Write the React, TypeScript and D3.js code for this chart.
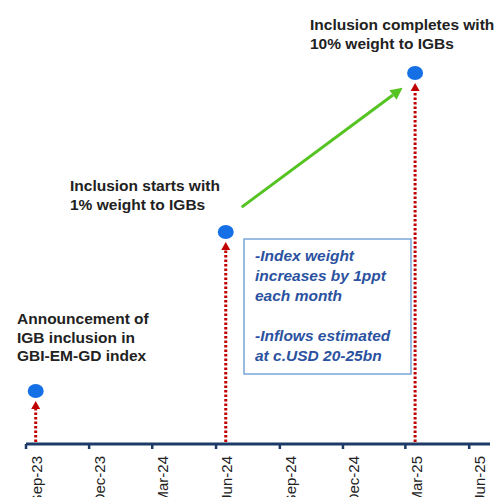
import React, { useEffect, useRef } from "react";
import * as d3 from "d3";

// timeline milestones (value = height on the chart, no real unit)
const milestoneDates = ["2023-09-15", "2024-06-15", "2025-03-15"];
const milestoneLevels = [1, 4, 7];

// tick labels, one every quarter
const tickDates = [
  "2023-09-01",
  "2023-12-01",
  "2024-03-01",
  "2024-06-01",
  "2024-09-01",
  "2024-12-01",
  "2025-03-01",
  "2025-06-01",
];
const tickLabels = ["Sep-23", "Dec-23", "Mar-24", "Jun-24", "Sep-24", "Dec-24", "Mar-25", "Jun-25"];

// green trend arrow (start / end)
const trendDates = ["2024-07-08", "2025-02-25"];
const trendLevels = [4.47, 6.72];

const notes = [
  ["Announcement of", "IGB inclusion in", "GBI-EM-GD index"],
  ["Inclusion starts with", "1% weight to IGBs"],
  ["Inclusion completes with", "10% weight to IGBs"],
];
const boxLines = [
  "-Index weight",
  "increases by 1ppt",
  "each month",
  "",
  "-Inflows estimated",
  "at c.USD 20-25bn",
];

const parse = d3.timeParse("%Y-%m-%d");

export default function App() {
  const ref = useRef<SVGSVGElement>(null);

  useEffect(() => {
    const svg = d3.select(ref.current);
    svg.selectAll("*").remove();
    const font = "'Liberation Sans', Arial, sans-serif";

    const x = d3
      .scaleTime()
      .domain([parse("2023-09-01")!, parse("2025-07-01")!])
      .range([26, 490]);
    const y = d3.scaleLinear().domain([0, 8]).range([444, 20]);

    const g = svg.append("g");

    // axis line + ticks
    g.append("line")
      .attr("x1", x.range()[0])
      .attr("x2", x.range()[1])
      .attr("y1", y(0))
      .attr("y2", y(0))
      .attr("stroke", "#1B3A68")
      .attr("stroke-width", 3);
    tickDates.forEach((t, i) => {
      const tx = x(parse(t)!);
      g.append("line")
        .attr("x1", tx)
        .attr("x2", tx)
        .attr("y1", y(0))
        .attr("y2", y(0) + 5)
        .attr("stroke", "#1B3A68")
        .attr("stroke-width", 2.5);
      g.append("text")
        .text(tickLabels[i])
        .attr("transform", `translate(${tx + 11},${y(0) + 12}) rotate(-90)`)
        .attr("dy", "0.35em")
        .attr("text-anchor", "end")
        .attr("font-family", font)
        .attr("font-size", 15)
        .attr("fill", "#222");
    });

    // red dotted arrows + blue dots
    milestoneDates.forEach((d, i) => {
      const px = x(parse(d)!);
      const py = y(milestoneLevels[i]);
      g.append("line")
        .attr("x1", px)
        .attr("x2", px)
        .attr("y1", y(0) - 2)
        .attr("y2", py + 16)
        .attr("stroke", "#C00000")
        .attr("stroke-width", 3)
        .attr("stroke-dasharray", "2.5,2");
      g.append("path")
        .attr("d", `M${px},${py + 10} L${px - 4.5},${py + 18} L${px + 4.5},${py + 18} Z`)
        .attr("fill", "#C00000");
      g.append("ellipse")
        .attr("cx", px)
        .attr("cy", py)
        .attr("rx", 8)
        .attr("ry", 7)
        .attr("fill", "#1570E6");
    });

    // green arrow
    const x1 = x(parse(trendDates[0])!);
    const y1 = y(trendLevels[0]);
    const x2 = x(parse(trendDates[1])!);
    const y2 = y(trendLevels[1]);
    const ang = Math.atan2(y2 - y1, x2 - x1);
    const hl = 12;
    const hw = 6;
    const bx = x2 - hl * Math.cos(ang);
    const by = y2 - hl * Math.sin(ang);
    g.append("line")
      .attr("x1", x1)
      .attr("y1", y1)
      .attr("x2", bx)
      .attr("y2", by)
      .attr("stroke", "#55C422")
      .attr("stroke-width", 3);
    g.append("path")
      .attr(
        "d",
        `M${x2},${y2} L${bx + hw * Math.sin(ang)},${by - hw * Math.cos(ang)} L${bx - hw * Math.sin(ang)},${by + hw * Math.cos(ang)} Z`
      )
      .attr("fill", "#55C422");

    // annotations
    const notePos = [
      [17, 324],
      [70, 191],
      [310, 30],
    ];
    notes.forEach((lines, i) => {
      const t = g
        .append("text")
        .attr("font-family", font)
        .attr("font-size", 15.5)
        .attr("font-weight", "bold")
        .attr("fill", "#222");
      lines.forEach((l, j) => {
        t.append("tspan")
          .attr("x", notePos[i][0])
          .attr("y", notePos[i][1] + j * 18.5)
          .text(l);
      });
    });

    // info box
    g.append("rect")
      .attr("x", 244)
      .attr("y", 239)
      .attr("width", 167)
      .attr("height", 135)
      .attr("fill", "white")
      .attr("stroke", "#7AA6D8")
      .attr("stroke-width", 1.5);
    const bt = g
      .append("text")
      .attr("font-family", font)
      .attr("font-size", 15.5)
      .attr("font-weight", "bold")
      .attr("font-style", "italic")
      .attr("fill", "#2B52A0");
    boxLines.forEach((l, j) => {
      if (!l) return;
      bt.append("tspan")
        .attr("x", 255)
        .attr("y", 261 + j * 20)
        .text(l);
    });
  }, []);

  return (
    <svg
      ref={ref}
      width={499}
      height={497}
      style={{ position: "absolute", left: 0, top: 0, background: "white" }}
    />
  );
}
